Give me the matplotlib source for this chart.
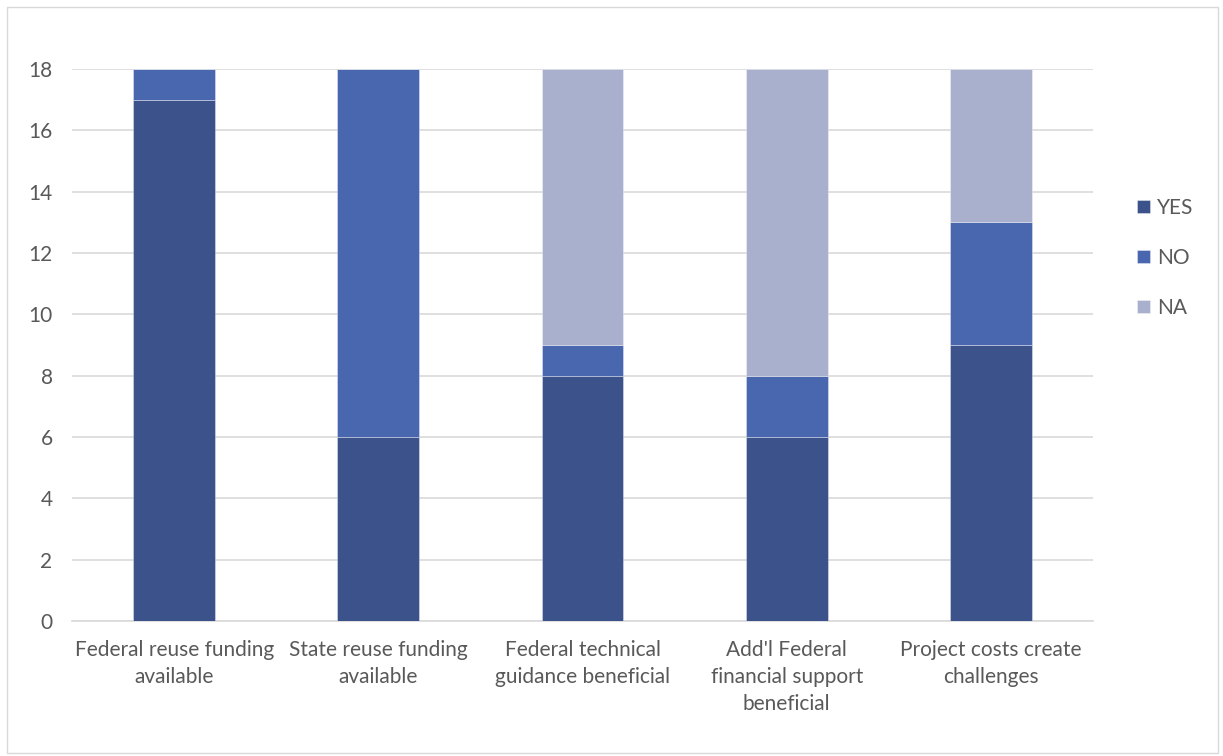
import numpy as np
import matplotlib.pyplot as plt
from matplotlib.patches import Rectangle

# survey responses per question
categories = ["Federal reuse funding\navailable", "State reuse funding\navailable",
              "Federal technical\nguidance beneficial", "Add'l Federal\nfinancial support\nbeneficial",
              "Project costs create\nchallenges"]
yes = [17, 6, 8, 6, 9]
no = [1, 12, 1, 2, 4]
na = [0, 0, 9, 10, 5]
series_names = ["YES", "NO", "NA"]
colors = ["#3C528B", "#4967AE", "#A9B0CD"]

plt.rcParams['font.family'] = ['Lato', 'DejaVu Sans']
txt = "#595959"
fs = 15

fig = plt.figure(figsize=(12.23, 7.56), dpi=100)
ax = fig.add_axes([0.0589, 0.1786, 0.8348, 0.7301])

x = np.arange(len(categories))
bottom = np.zeros(len(categories))
for vals, name, col in zip([yes, no, na], series_names, colors):
    ax.bar(x, vals, 0.4, bottom=bottom, color=col, label=name,
           edgecolor="#FFFFFF80", linewidth=0.5, zorder=3)
    bottom += np.array(vals)

ax.set_xlim(-0.5, len(categories) - 0.5)
ax.set_ylim(0, 18)
ax.set_yticks(range(0, 19, 2))
ax.yaxis.grid(True, color="#D9D9D9", linewidth=1.2, zorder=0)
ax.set_xticks(x)
ax.set_xticklabels(categories, fontsize=fs, color=txt, linespacing=1.42)
ax.tick_params(axis="y", labelsize=fs, labelcolor=txt, length=0, pad=14)
ax.tick_params(axis="x", length=0, pad=14)
for s in ["top", "right", "left"]:
    ax.spines[s].set_visible(False)
ax.spines["bottom"].set_color("#D9D9D9")
ax.spines["bottom"].set_linewidth(1.2)

leg = ax.legend(loc="center left", bbox_to_anchor=(1.025, 0.658), frameon=False,
                fontsize=fs, handlelength=0.6, handleheight=0.6,
                handletextpad=0.35, labelspacing=1.45)
for t in leg.get_texts():
    t.set_color(txt)

fig.patches.append(Rectangle((0.0057, 0.004), 0.99, 0.987, transform=fig.transFigure,
                             fill=False, edgecolor="#D9D9D9", linewidth=1))

fig.savefig("out.png", dpi=100)
